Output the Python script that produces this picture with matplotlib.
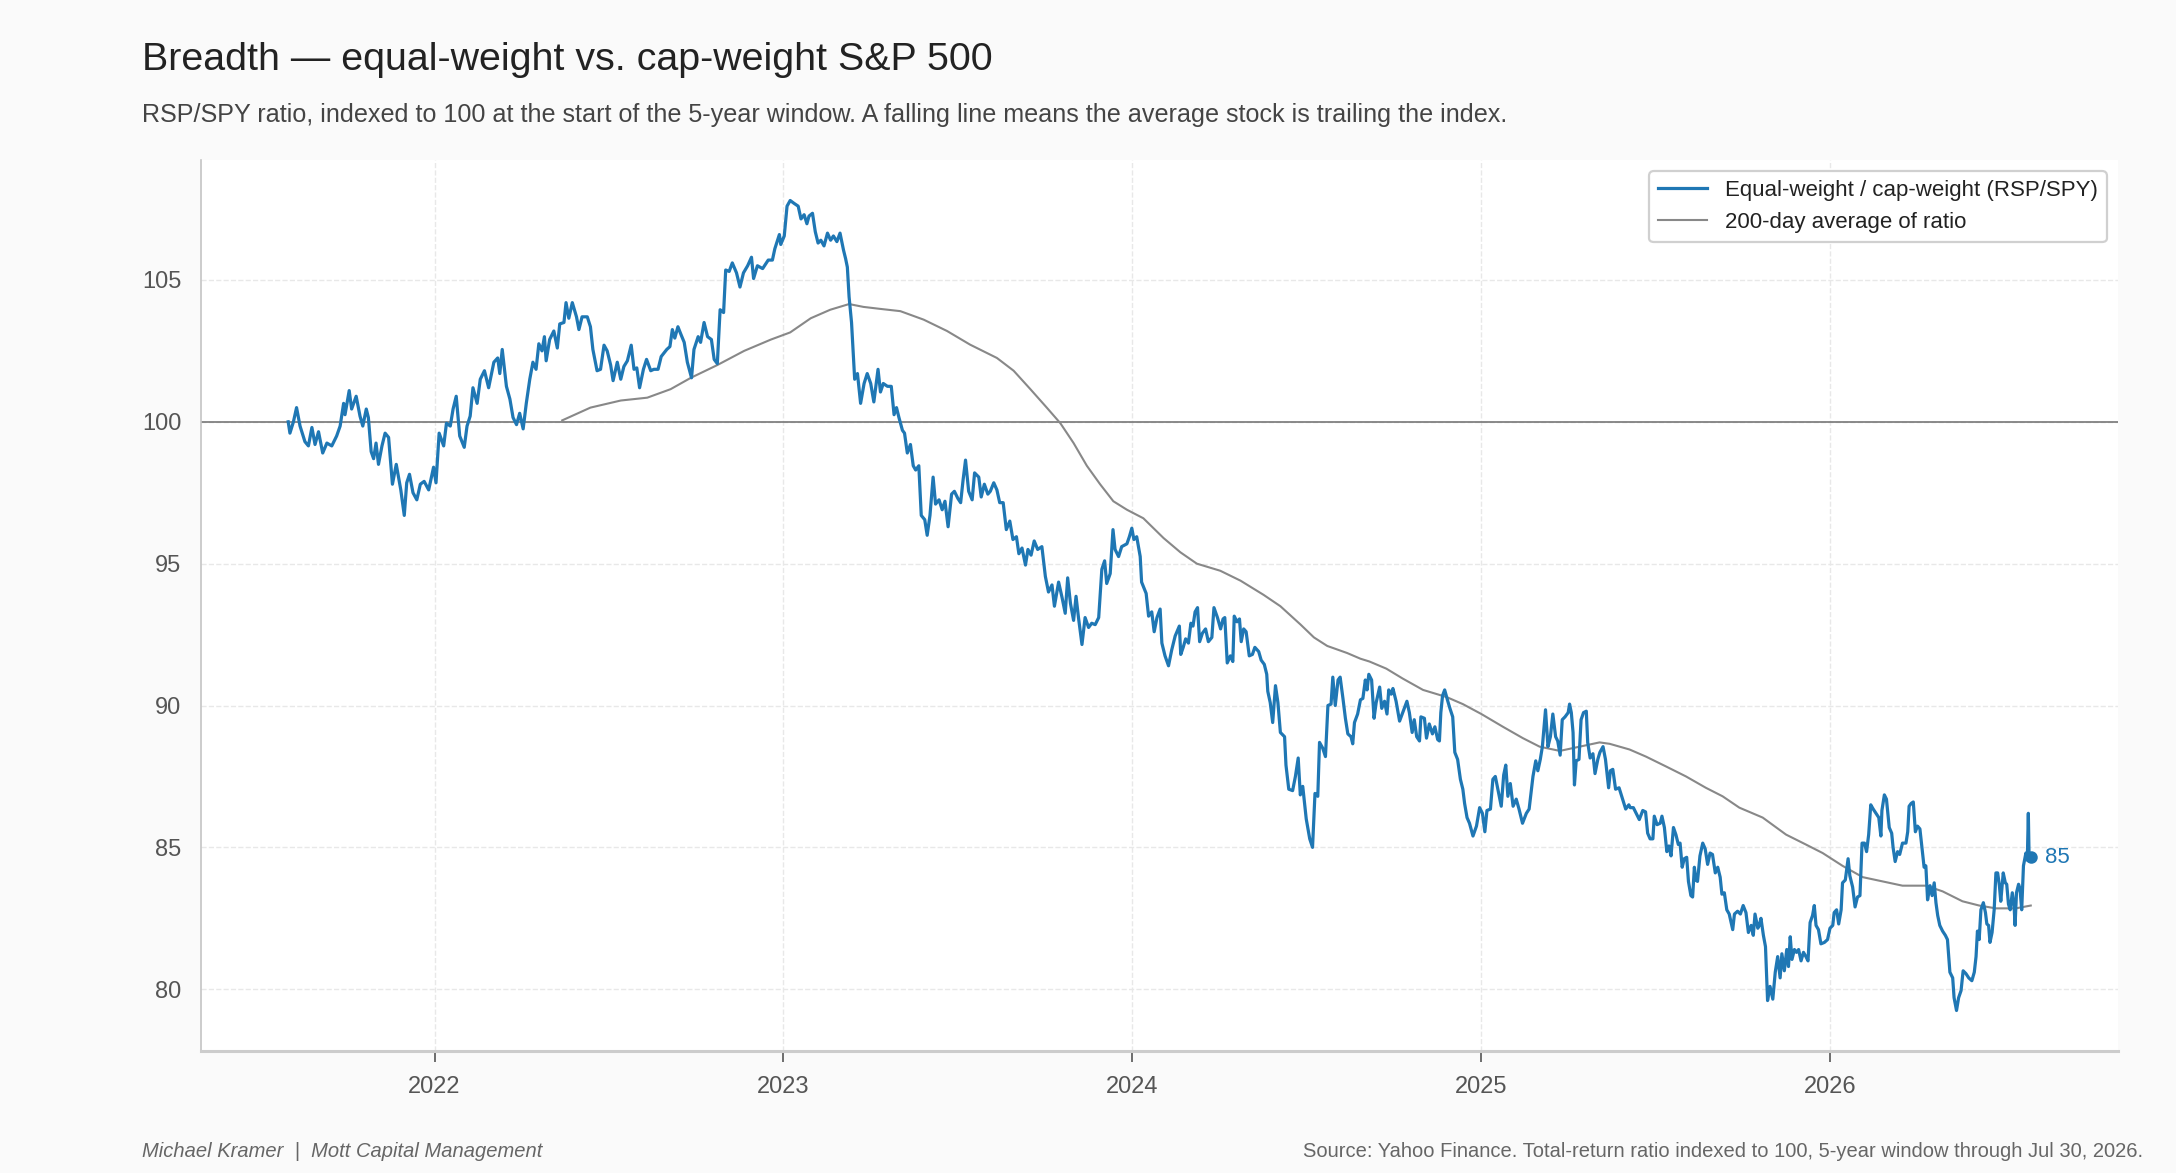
import numpy as np
import pandas as pd
import matplotlib
matplotlib.use("Agg")
import matplotlib.pyplot as plt
import matplotlib.dates as mdates

plt.rcParams['font.family'] = ['Liberation Sans', 'DejaVu Sans']

# RSP/SPY ratio (indexed to 100); x is decimal year
ratio_year = [
    2021.580, 2021.585, 2021.595, 2021.604, 2021.614, 2021.628, 2021.638, 2021.648, 2021.657, 2021.667,
    2021.679, 2021.691, 2021.705, 2021.719, 2021.729, 2021.739, 2021.743, 2021.755, 2021.762, 2021.775,
    2021.786, 2021.794, 2021.804, 2021.810, 2021.818, 2021.825, 2021.832, 2021.839, 2021.849, 2021.858,
    2021.868, 2021.879, 2021.890, 2021.903, 2021.913, 2021.920, 2021.928, 2021.938, 2021.949, 2021.959,
    2021.970, 2021.983, 2021.997, 2022.004, 2022.013, 2022.026, 2022.034, 2022.045, 2022.053, 2022.062,
    2022.072, 2022.085, 2022.093, 2022.102, 2022.110, 2022.122, 2022.131, 2022.143, 2022.155, 2022.170,
    2022.181, 2022.187, 2022.194, 2022.206, 2022.216, 2022.225, 2022.235, 2022.244, 2022.254, 2022.263,
    2022.273, 2022.282, 2022.291, 2022.299, 2022.308, 2022.315, 2022.320, 2022.330, 2022.342, 2022.352,
    2022.359, 2022.371, 2022.377, 2022.385, 2022.395, 2022.407, 2022.414, 2022.423, 2022.438, 2022.447,
    2022.454, 2022.466, 2022.476, 2022.486, 2022.495, 2022.505, 2022.512, 2022.524, 2022.534, 2022.543,
    2022.553, 2022.564, 2022.572, 2022.580, 2022.588, 2022.599, 2022.608, 2022.620, 2022.629, 2022.641,
    2022.650, 2022.666, 2022.675, 2022.682, 2022.689, 2022.698, 2022.706, 2022.716, 2022.725, 2022.737,
    2022.744, 2022.756, 2022.763, 2022.773, 2022.783, 2022.794, 2022.802, 2022.811, 2022.819, 2022.829,
    2022.835, 2022.845, 2022.854, 2022.866, 2022.876, 2022.886, 2022.898, 2022.909, 2022.915, 2022.926,
    2022.941, 2022.957, 2022.969, 2022.976, 2022.989, 2022.993, 2023.003, 2023.011, 2023.020,
    2023.031, 2023.043, 2023.051, 2023.060, 2023.068, 2023.074, 2023.084, 2023.092, 2023.100, 2023.108,
    2023.117, 2023.127, 2023.136, 2023.144, 2023.154, 2023.163, 2023.173, 2023.179, 2023.184, 2023.189,
    2023.196, 2023.201, 2023.205, 2023.213, 2023.222, 2023.232, 2023.241, 2023.251, 2023.260, 2023.272,
    2023.279, 2023.287, 2023.299, 2023.310, 2023.318, 2023.325, 2023.332, 2023.342, 2023.348, 2023.356,
    2023.365, 2023.373, 2023.380, 2023.389, 2023.396, 2023.406, 2023.413, 2023.421, 2023.430, 2023.437,
    2023.447, 2023.456, 2023.464, 2023.473, 2023.483, 2023.491, 2023.501, 2023.509, 2023.516, 2023.523,
    2023.532, 2023.542, 2023.549, 2023.561, 2023.568, 2023.577, 2023.587, 2023.594, 2023.604, 2023.613,
    2023.621, 2023.631, 2023.640, 2023.650, 2023.659, 2023.669, 2023.676, 2023.685, 2023.695, 2023.702,
    2023.711, 2023.720, 2023.730, 2023.742, 2023.752, 2023.761, 2023.771, 2023.778, 2023.790, 2023.800,
    2023.809, 2023.816, 2023.824, 2023.833, 2023.840, 2023.847, 2023.857, 2023.866, 2023.876, 2023.885,
    2023.895, 2023.905, 2023.914, 2023.922, 2023.928, 2023.938, 2023.946, 2023.952, 2023.962, 2023.971,
    2023.986, 2023.993, 2024.000, 2024.006, 2024.014, 2024.024, 2024.028, 2024.041, 2024.048, 2024.057,
    2024.064, 2024.072, 2024.081, 2024.086, 2024.095, 2024.105, 2024.114, 2024.124, 2024.136,
    2024.140, 2024.147, 2024.154, 2024.162, 2024.169, 2024.175, 2024.181, 2024.188, 2024.194, 2024.202,
    2024.211, 2024.219, 2024.229, 2024.235, 2024.245, 2024.254, 2024.261, 2024.266, 2024.273, 2024.282,
    2024.289, 2024.293, 2024.301, 2024.308, 2024.313, 2024.320, 2024.327, 2024.336, 2024.345, 2024.352,
    2024.363, 2024.370, 2024.379, 2024.386, 2024.389, 2024.396, 2024.403, 2024.411, 2024.418, 2024.425,
    2024.437, 2024.441, 2024.449, 2024.460, 2024.468, 2024.476, 2024.482, 2024.489, 2024.499, 2024.509,
    2024.517, 2024.524, 2024.532, 2024.537, 2024.546, 2024.554, 2024.561, 2024.570, 2024.575, 2024.582,
    2024.590, 2024.596, 2024.604, 2024.611, 2024.618, 2024.627, 2024.632, 2024.637, 2024.646, 2024.654,
    2024.661, 2024.668, 2024.673, 2024.678, 2024.686, 2024.693, 2024.699, 2024.709, 2024.715, 2024.723,
    2024.730, 2024.735, 2024.742, 2024.747, 2024.756, 2024.766, 2024.775, 2024.787, 2024.794, 2024.802,
    2024.808, 2024.815, 2024.823, 2024.827, 2024.837, 2024.843, 2024.851, 2024.860, 2024.867, 2024.875,
    2024.880, 2024.884, 2024.889, 2024.895, 2024.904, 2024.910, 2024.918, 2024.924, 2024.932, 2024.940,
    2024.947, 2024.952, 2024.959, 2024.966, 2024.976, 2024.986, 2024.995, 2025.003, 2025.010, 2025.016,
    2025.026, 2025.033, 2025.040, 2025.048, 2025.057, 2025.064, 2025.070, 2025.076, 2025.083, 2025.091,
    2025.100, 2025.108, 2025.118, 2025.129, 2025.137, 2025.148, 2025.156, 2025.162, 2025.169, 2025.175,
    2025.184, 2025.191, 2025.198, 2025.205, 2025.213, 2025.219, 2025.226, 2025.232, 2025.240, 2025.249,
    2025.253, 2025.258, 2025.263, 2025.267, 2025.272, 2025.280, 2025.286, 2025.293, 2025.301, 2025.305,
    2025.312, 2025.320, 2025.326, 2025.334, 2025.340, 2025.349, 2025.356, 2025.365, 2025.370, 2025.377,
    2025.385, 2025.395, 2025.405, 2025.414, 2025.423,
    2025.427, 2025.436, 2025.444, 2025.453, 2025.463, 2025.471, 2025.477, 2025.484, 2025.492, 2025.496,
    2025.504, 2025.513, 2025.518, 2025.525, 2025.532, 2025.538, 2025.544, 2025.551, 2025.558, 2025.565,
    2025.570, 2025.576, 2025.582, 2025.589, 2025.594, 2025.601, 2025.606, 2025.611, 2025.615, 2025.620,
    2025.627, 2025.635, 2025.642, 2025.649, 2025.656, 2025.663, 2025.671, 2025.678, 2025.685, 2025.690,
    2025.697, 2025.704, 2025.711, 2025.721, 2025.726, 2025.735, 2025.743, 2025.751, 2025.759, 2025.766,
    2025.774, 2025.780, 2025.785, 2025.793, 2025.797, 2025.802, 2025.809, 2025.815, 2025.821, 2025.828,
    2025.836, 2025.843, 2025.850, 2025.857, 2025.862, 2025.869, 2025.876, 2025.881, 2025.886, 2025.891,
    2025.898, 2025.904, 2025.910, 2025.917, 2025.924, 2025.931, 2025.937, 2025.943, 2025.950, 2025.955,
    2025.960, 2025.967, 2025.974, 2025.984, 2025.993, 2026.000, 2026.008, 2026.012, 2026.019, 2026.025,
    2026.032, 2026.036, 2026.044, 2026.052, 2026.057, 2026.065, 2026.072, 2026.079, 2026.086, 2026.092,
    2026.099, 2026.105, 2026.111, 2026.117, 2026.124, 2026.132, 2026.140, 2026.146, 2026.149, 2026.156,
    2026.162, 2026.170, 2026.177, 2026.181, 2026.187, 2026.194, 2026.200, 2026.208, 2026.218, 2026.223,
    2026.227, 2026.233, 2026.239, 2026.245, 2026.251, 2026.258, 2026.266, 2026.270, 2026.275, 2026.280,
    2026.287, 2026.293, 2026.299, 2026.304, 2026.309, 2026.315, 2026.323, 2026.331, 2026.337, 2026.344,
    2026.352, 2026.356, 2026.363, 2026.369, 2026.376, 2026.382, 2026.390, 2026.398, 2026.407, 2026.414,
    2026.419, 2026.423, 2026.428, 2026.433, 2026.440, 2026.446, 2026.450, 2026.455, 2026.459, 2026.465,
    2026.471, 2026.476, 2026.481, 2026.486, 2026.490, 2026.497, 2026.503, 2026.507, 2026.512, 2026.517,
    2026.523, 2026.528, 2026.531, 2026.535, 2026.541, 2026.545, 2026.550, 2026.555, 2026.562, 2026.566,
    2026.569, 2026.571, 2026.576,
]
ratio_val = [
    100.0, 99.6, 100.0, 100.5, 99.85, 99.3, 99.15, 99.8, 99.2, 99.65,
    98.9, 99.25, 99.15, 99.5, 99.85, 100.65, 100.25, 101.1, 100.45, 100.9,
    100.2, 99.85, 100.45, 100.15, 98.95, 98.7, 99.25, 98.5, 99.15, 99.6,
    99.45, 97.8, 98.5, 97.6, 96.7, 97.85, 98.15, 97.5, 97.25, 97.8,
    97.9, 97.6, 98.4, 97.85, 99.6, 99.15, 99.95, 99.85, 100.45, 100.9,
    99.5, 99.1, 99.85, 100.2, 101.2, 100.65, 101.5, 101.8, 101.2, 102.1,
    102.25, 101.7, 102.55, 101.25, 100.8, 100.15, 99.9, 100.3, 99.75, 100.65,
    101.5, 102.1, 101.85, 102.75, 102.5, 103.0, 102.15, 102.9, 103.2, 102.6,
    103.45, 103.5, 104.2, 103.65, 104.2, 103.7, 103.25, 103.7, 103.7, 103.35,
    102.55, 101.8, 101.85, 102.7, 102.5, 102.0, 101.45, 102.1, 101.5, 101.95,
    102.15, 102.7, 101.85, 101.9, 101.2, 101.85, 102.2, 101.8, 101.85, 101.85,
    102.3, 102.55, 102.65, 103.25, 102.95, 103.35, 103.1, 102.8, 102.1, 101.55,
    102.55, 103.0, 102.8, 103.5, 103.0, 102.9, 102.2, 102.05, 103.95, 103.85,
    105.35, 105.3, 105.6, 105.25, 104.75, 105.25, 105.5, 105.8, 105.05, 105.5,
    105.4, 105.7, 105.7, 106.1, 106.6, 106.25, 106.55, 107.6, 107.8,
    107.7, 107.6, 107.15, 107.3, 106.98, 107.25, 107.35, 106.7, 106.3, 106.4,
    106.2, 106.65, 106.4, 106.55, 106.35, 106.65, 106.05, 105.75, 105.45, 104.4,
    103.5, 102.4, 101.5, 101.7, 100.65, 101.35, 101.7, 101.35, 100.7, 101.85,
    101.05, 101.35, 101.25, 101.25, 100.25, 100.5, 100.15, 99.7, 99.6, 98.9,
    99.2, 98.45, 98.3, 98.45, 96.7, 96.55, 96.0, 96.7, 98.05, 97.1,
    97.25, 96.9, 97.2, 96.3, 97.45, 97.55, 97.3, 97.15, 97.95, 98.65,
    97.55, 97.25, 98.2, 98.05, 97.35, 97.8, 97.45, 97.55, 97.85, 97.6,
    97.15, 97.15, 96.2, 96.5, 95.85, 95.95, 95.35, 95.55, 94.95, 95.5,
    95.3, 95.8, 95.5, 95.6, 94.55, 94.0, 94.25, 93.5, 94.35, 93.8,
    93.25, 94.5, 93.6, 93.0, 93.85, 93.1, 92.15, 93.1, 92.75, 92.9,
    92.85, 93.1, 94.8, 95.1, 94.3, 94.65, 96.2, 95.5, 95.25, 95.6,
    95.7, 95.95, 96.25, 95.85, 95.95, 95.25, 94.35, 93.95, 93.15, 93.3,
    92.6, 93.1, 93.4, 92.2, 91.75, 91.4, 91.95, 92.45, 92.8,
    91.8, 92.05, 92.35, 92.2, 92.9, 92.8, 93.3, 93.45, 92.25, 92.55,
    92.7, 92.25, 92.4, 93.45, 93.1, 92.7, 93.05, 93.1, 91.5, 91.75,
    91.55, 93.15, 92.95, 93.05, 92.25, 92.7, 92.6, 91.75, 91.8, 92.05,
    91.9, 91.6, 91.45, 91.1, 90.5, 90.1, 89.4, 90.7, 90.1, 89.05,
    88.9, 87.9, 87.05, 87.0, 87.5, 88.15, 86.85, 87.15, 86.0, 85.3,
    85.0, 86.9, 86.8, 88.7, 88.5, 88.2, 90.0, 90.05, 91.0, 90.0,
    90.9, 91.0, 90.25, 89.55, 89.0, 88.9, 88.65, 89.4, 89.7, 90.2,
    90.25, 90.9, 90.55, 91.1, 90.9, 89.55, 90.1, 90.65, 89.9, 90.15,
    89.7, 90.55, 90.4, 90.6, 90.15, 89.45, 89.75, 90.15, 89.75, 89.05,
    89.5, 88.9, 88.75, 89.6, 89.55, 88.85, 89.35, 89.0, 89.25, 88.8,
    88.75, 89.75, 90.35, 90.55, 90.15, 89.9, 89.6, 88.35, 88.1, 87.4,
    87.05, 86.55, 86.05, 85.85, 85.4, 85.75, 86.4, 86.2, 85.55, 86.3,
    86.35, 87.4, 87.5, 87.0, 86.45, 87.55, 87.9, 86.8, 87.25, 86.45,
    86.7, 86.35, 85.85, 86.2, 86.35, 87.5, 88.05, 87.7, 88.1, 88.55,
    89.85, 88.55, 88.9, 89.7, 88.9, 88.75, 88.25, 89.5, 89.6, 89.75,
    90.05, 89.75, 89.05, 87.2, 88.05, 88.1, 89.5, 89.75, 89.8, 88.7,
    88.15, 88.3, 87.6, 88.1, 88.35, 88.55, 88.1, 87.1, 87.7, 87.75,
    87.05, 87.1, 86.7, 86.35, 86.5,
    86.4, 86.4, 86.2, 85.98, 86.3, 86.25, 85.5, 85.3, 85.3, 86.1,
    85.8, 85.85, 86.1, 85.7, 84.85, 85.05, 84.7, 85.7, 85.45, 85.1,
    85.15, 84.3, 84.6, 84.65, 83.8, 83.3, 83.25, 84.3, 83.85, 83.8,
    84.7, 85.15, 84.95, 84.4, 84.8, 84.75, 84.1, 84.3, 83.95, 83.35,
    83.4, 82.8, 82.65, 82.1, 82.65, 82.75, 82.65, 82.95, 82.7, 82.0,
    82.25, 81.9, 82.65, 82.15, 82.25, 82.5, 81.9, 81.5, 79.6, 80.1,
    79.65, 80.6, 81.15, 80.4, 81.25, 80.65, 81.4, 80.8, 81.85, 81.05,
    81.4, 81.3, 81.4, 81.0, 81.3, 81.15, 81.0, 82.35, 82.6, 82.95,
    82.25, 82.1, 81.6, 81.65, 81.75, 82.15, 82.25, 82.7, 82.8, 82.3,
    82.8, 83.75, 83.85, 84.6, 84.0, 83.6, 82.9, 83.25, 83.3, 85.15,
    85.15, 84.85, 85.45, 86.5, 86.35, 86.2, 86.05, 85.4, 86.3, 86.85,
    86.7, 85.7, 85.5, 85.0, 84.5, 84.85, 84.75, 85.15, 85.15, 85.55,
    86.45, 86.55, 86.6, 85.55, 85.75, 85.65, 84.75, 84.3, 84.35, 83.15,
    83.65, 83.3, 83.75, 83.05, 82.6, 82.25, 82.05, 81.9, 81.75, 80.6,
    80.4, 79.7, 79.25, 79.7, 79.95, 80.65, 80.55, 80.4, 80.3, 80.6,
    81.15, 82.05, 81.75, 82.8, 83.05, 82.7, 82.3, 82.25, 81.65, 82.0,
    82.8, 84.1, 84.1, 83.65, 83.1, 84.1, 83.75, 83.7, 83.0, 82.8,
    83.4, 82.95, 82.25, 83.4, 83.7, 83.55, 82.8, 84.35, 84.8, 84.55,
    86.2, 84.8, 84.65,
]

# 200-day average of the ratio
ma_year = [
    2022.366, 2022.447, 2022.534, 2022.610, 2022.677, 2022.735, 2022.811, 2022.888, 2022.965, 2023.020,
    2023.079, 2023.135, 2023.189, 2023.230, 2023.278, 2023.336, 2023.403, 2023.470, 2023.536, 2023.613,
    2023.661, 2023.709, 2023.756, 2023.795, 2023.833, 2023.871, 2023.909, 2023.947, 2023.986, 2024.033,
    2024.091, 2024.139, 2024.186, 2024.253, 2024.311, 2024.377, 2024.425, 2024.483, 2024.521, 2024.559,
    2024.616, 2024.654, 2024.680, 2024.728, 2024.775, 2024.833, 2024.900, 2024.947, 2025.000,
    2025.062, 2025.119, 2025.167, 2025.225, 2025.282, 2025.339, 2025.368, 2025.425, 2025.472, 2025.530,
    2025.587, 2025.644, 2025.692, 2025.740, 2025.807, 2025.874, 2025.931, 2025.979, 2026.036, 2026.094,
    2026.151, 2026.208, 2026.275, 2026.323, 2026.380, 2026.428, 2026.476, 2026.533, 2026.576,
]
ma_val = [
    100.05, 100.5, 100.75, 100.85, 101.15, 101.55, 102.0, 102.5, 102.9, 103.15,
    103.65, 103.95, 104.15, 104.05, 103.98, 103.9, 103.6, 103.2, 102.72, 102.25,
    101.8, 101.15, 100.5, 99.95, 99.25, 98.45, 97.8, 97.2, 96.9, 96.6,
    95.9, 95.4, 95.0, 94.75, 94.4, 93.9, 93.5, 92.85, 92.4, 92.1,
    91.85, 91.65, 91.55, 91.3, 90.95, 90.55, 90.3, 90.05, 89.7,
    89.25, 88.85, 88.55, 88.4, 88.55, 88.7, 88.65, 88.45, 88.2, 87.85,
    87.5, 87.1, 86.8, 86.4, 86.05, 85.45, 85.1, 84.8, 84.35, 83.95,
    83.8, 83.65, 83.65, 83.45, 83.1, 82.95, 82.85, 82.85, 82.95,
]


def to_dates(years):
    out = []
    for y in years:
        yr = int(y)
        start = pd.Timestamp(yr, 1, 1)
        end = pd.Timestamp(yr + 1, 1, 1)
        out.append(start + (end - start) * (y - yr))
    return pd.DatetimeIndex(out)


ratio_dates = to_dates(ratio_year)
ma_dates = to_dates(ma_year)

BLUE = '#1f77b4'
GREY = '#888888'

fig = plt.figure(figsize=(10.88, 5.865), dpi=200, facecolor='#fafafa')
ax = fig.add_axes([0.0924, 0.104, 0.8809, 0.7596])
ax.set_facecolor('white')

ax.axhline(100, color='#777777', linewidth=0.6, zorder=1)
ax.plot(ratio_dates, ratio_val, color=BLUE, linewidth=1.15,
        label='Equal-weight / cap-weight (RSP/SPY)', zorder=3)
ax.plot(ma_dates, ma_val, color=GREY, linewidth=0.75,
        label='200-day average of ratio', zorder=2)

# end-of-series marker and label
ax.plot(ratio_dates[-1], ratio_val[-1], 'o', color=BLUE, markersize=3.5, zorder=4)
ax.annotate(f'{ratio_val[-1]:.0f}', (ratio_dates[-1], ratio_val[-1]),
            xytext=(5, 0), textcoords='offset points', va='center',
            color=BLUE, fontsize=8)

ax.xaxis.set_major_locator(mdates.YearLocator())
ax.xaxis.set_major_formatter(mdates.DateFormatter('%Y'))
ax.set_yticks([80, 85, 90, 95, 100, 105])

ax.grid(True, color='#e8e8e8', linestyle='--', linewidth=0.5)
ax.set_axisbelow(True)

for s in ['top', 'right']:
    ax.spines[s].set_visible(False)
ax.spines['left'].set_color('#c4c4c4')
ax.spines['left'].set_linewidth(0.6)
ax.spines['bottom'].set_color('#cccccc')
ax.spines['bottom'].set_linewidth(1.1)

ax.tick_params(axis='x', length=4, width=0.6, color='#555555',
               labelcolor='#555555', labelsize=8.5, pad=5)
ax.tick_params(axis='y', length=0, labelcolor='#555555', labelsize=8.5, pad=7)

leg = ax.legend(loc='upper right', fontsize=8, frameon=True, fancybox=True,
                edgecolor='#d0d0d0', facecolor='white', framealpha=1,
                handlelength=2.2)
leg.get_frame().set_linewidth(0.8)
for t in leg.get_texts():
    t.set_color('#222222')

fig.text(0.0653, 0.940, 'Breadth \u2014 equal-weight vs. cap-weight S&P 500',
         fontsize=14.2, color='#222222', va='baseline')
fig.text(0.0653, 0.896,
         'RSP/SPY ratio, indexed to 100 at the start of the 5-year window. '
         'A falling line means the average stock is trailing the index.',
         fontsize=9.05, color='#444444', va='baseline')

fig.text(0.0653, 0.018, 'Michael Kramer  |  Mott Capital Management',
         fontsize=7.25, color='#666666', style='italic', va='center')
fig.text(0.985, 0.018,
         'Source: Yahoo Finance. Total-return ratio indexed to 100, '
         '5-year window through Jul 30, 2026.',
         fontsize=7.25, color='#666666', ha='right', va='center')

fig.savefig('out.png', dpi=200, facecolor=fig.get_facecolor())
